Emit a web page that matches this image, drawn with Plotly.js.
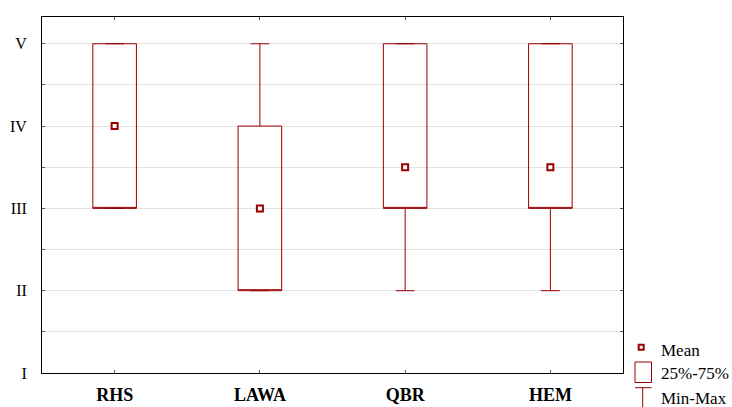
<!DOCTYPE html>
<html>
<head>
<meta charset="utf-8">
<script src="https://cdn.plot.ly/plotly-3.0.1.min.js"></script>
<style>html,body{margin:0;padding:0;background:#fff;}#chart{width:732px;height:407px;}</style>
</head>
<body>
<div id="chart"></div>
<script>
// ---- data ----
var categories = ['RHS', 'LAWA', 'QBR', 'HEM'];
var minValues = [3, 2, 2, 2];
var q1Values = [3, 2, 3, 3];
var medianValues = [3, 2, 3, 3];
var q3Values = [5, 4, 5, 5];
var maxValues = [5, 5, 5, 5];
var meanValues = [4, 3, 3.5, 3.5];
var yTickVals = [1, 1.5, 2, 2.5, 3, 3.5, 4, 4.5, 5];
var yTickText = ['I', '', 'II', '', 'III', '', 'IV', '', 'V'];
var legendLabels = ['Mean', '25%-75%', 'Min-Max'];

var red = '#990000';
var serif = 'Liberation Serif, Times New Roman, serif';

var traces = [
  {
    type: 'box',
    x: categories,
    q1: q1Values,
    median: medianValues,
    q3: q3Values,
    lowerfence: minValues,
    upperfence: maxValues,
    boxpoints: false,
    width: 0.3,
    whiskerwidth: 0.43,
    line: {color: red, width: 1},
    fillcolor: 'rgba(255,255,255,0)',
    hoverinfo: 'skip',
    showlegend: false
  },
  {
    type: 'scatter',
    mode: 'markers',
    x: categories,
    y: meanValues,
    marker: {symbol: 'square', size: 6, color: '#ffffff', line: {color: red, width: 2}},
    cliponaxis: false,
    hoverinfo: 'skip',
    showlegend: false
  }
];

function pxShape(type, x0, x1, y0, y1, extra) {
  var s = {
    type: type, xref: 'paper', yref: 'paper',
    xsizemode: 'pixel', ysizemode: 'pixel', xanchor: 1, yanchor: 0,
    x0: x0, x1: x1, y0: y0, y1: y1,
    line: {color: red, width: 1}
  };
  for (var k in extra) s[k] = extra[k];
  return s;
}

var shapes = [
  pxShape('rect', 15.7, 20.7, 23.3, 28.3, {line: {color: red, width: 2}, fillcolor: '#ffffff'}),
  pxShape('rect', 12, 28.5, -9.5, 11, {}),
  pxShape('line', 12, 28.5, -14.7, -14.7, {}),
  pxShape('line', 19.7, 19.7, -14.7, -34, {})
];

var legendY = [23, 0, -25];
var annotations = legendLabels.map(function (t, i) {
  return {
    text: t, xref: 'paper', yref: 'paper', x: 1, y: 0,
    xanchor: 'left', yanchor: 'middle', xshift: 35.5, yshift: legendY[i],
    showarrow: false, font: {family: serif, size: 17, color: '#000'}
  };
});

var layout = {
  width: 732, height: 407,
  margin: {l: 42, r: 109, t: 17, b: 34},
  paper_bgcolor: '#ffffff', plot_bgcolor: '#ffffff',
  showlegend: false,
  hovermode: false,
  xaxis: {
    type: 'category',
    range: [-0.5, 3.5],
    showline: true, linecolor: '#000', linewidth: 1, mirror: 'ticks',
    ticks: 'inside', ticklen: 3, tickcolor: '#555',
    showgrid: false, zeroline: false,
    ticklabelstandoff: 5,
    tickfont: {family: serif, size: 18, color: '#000', weight: 'bold'}
  },
  yaxis: {
    range: [1, 5.325],
    tickvals: yTickVals,
    ticktext: yTickText,
    showline: true, linecolor: '#000', linewidth: 1, mirror: 'ticks',
    ticks: 'inside', ticklen: 3, tickcolor: '#555',
    showgrid: true, gridcolor: '#e3e3e3', gridwidth: 1,
    zeroline: false,
    ticklabelstandoff: 11,
    tickfont: {family: serif, size: 16, color: '#000'}
  },
  shapes: shapes,
  annotations: annotations
};

Plotly.newPlot('chart', traces, layout, {staticPlot: true, displayModeBar: false});
</script>
</body>
</html>
